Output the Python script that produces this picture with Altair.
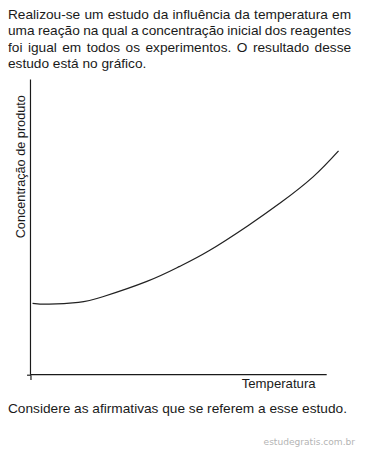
import altair as alt
import pandas as pd

# Curve (arbitrary units: temperature 0-100, concentration 0-100)
temperatura = [0.7, 6.3, 16.2, 24.4, 39.3, 50.2, 60.1, 73.3, 84.5, 95.4, 104.0]
concentracao = [24.2, 23.9, 24.5, 26.4, 31.6, 36.6, 41.9, 50.4, 58.3, 67.0, 75.8]
eixo_min, eixo_max = 0, 100

paragrafo = [
    "Realizou-se um estudo da influência da temperatura em",
    "uma reação na qual a concentração inicial dos reagentes",
    "foi igual em todos os experimentos. O resultado desse",
    "estudo está no gráfico.",
]
rodape = "Considere as afirmativas que se referem a esse estudo."
marca = "estudegratis.com.br"
titulo_x = "Temperatura"
titulo_y = "Concentração de produto"

FONT = "Liberation Sans"
INK = "#1a1a1a"
FS = 14

# Arial / Liberation Sans advance widths (1/1000 em) used to justify the paragraph
ADV = {" ": 278, "-": 333, ".": 278, "a": 556, "b": 556, "c": 500, "d": 556, "e": 556,
       "f": 278, "g": 556, "h": 556, "i": 222, "j": 222, "k": 500, "l": 222, "m": 833,
       "n": 556, "o": 556, "p": 556, "q": 556, "r": 333, "s": 500, "t": 278, "u": 556,
       "v": 500, "w": 722, "x": 500, "y": 500, "z": 500, "á": 556, "ã": 556, "ç": 500,
       "ê": 556, "R": 722, "O": 778, "C": 722}


def wwidth(word):
    return sum(ADV.get(ch, 556) for ch in word) / 1000 * FS


df = pd.DataFrame({"t": temperatura, "c": concentracao})
xs = alt.Scale(domain=[eixo_min, eixo_max], nice=False, zero=False)
ys = alt.Scale(domain=[eixo_min, eixo_max], nice=False, zero=False)

curve = alt.Chart(df).mark_line(
    color="#222222", strokeWidth=1.3, interpolate="natural"
).encode(
    x=alt.X("t:Q", scale=xs,
            axis=alt.Axis(title=titulo_x, values=[eixo_min], labels=False, grid=False,
                          domain=False, tickSize=5, tickColor=INK, tickWidth=1.2,
                          titleFont=FONT, titleFontSize=13.5, titleFontWeight="normal",
                          titleColor=INK, titleX=215.5, titleY=12.7,
                          titleAlign="left", titleBaseline="alphabetic")),
    y=alt.Y("c:Q", scale=ys,
            axis=alt.Axis(title=titulo_y, values=[eixo_min], labels=False, grid=False,
                          domain=False, tickSize=4, tickColor=INK, tickWidth=1.2,
                          titleFont=FONT, titleFontSize=13, titleFontWeight="normal",
                          titleColor=INK, titleX=-6.5, titleY=162, titleAngle=270,
                          titleAlign="left", titleBaseline="alphabetic")),
)

# axis lines drawn in data coordinates
x_axis = alt.Chart(pd.DataFrame({"a": [eixo_min], "b": [eixo_max], "c": [eixo_min]})).mark_rule(
    color=INK, strokeWidth=1.2).encode(x="a:Q", x2="b:Q", y="c:Q")
y_axis = alt.Chart(pd.DataFrame({"a": [eixo_min], "b": [eixo_max], "c": [eixo_min]})).mark_rule(
    color=INK, strokeWidth=1.2).encode(y="a:Q", y2="b:Q", x="c:Q")

layers = [x_axis, y_axis, curve]


def text_layer(s, x, y, **kw):
    props = dict(font=FONT, fontSize=FS, color=INK, align="left", baseline="alphabetic")
    props.update(kw)
    return alt.Chart(pd.DataFrame({"s": [s]})).mark_text(**props).encode(
        x=alt.value(x), y=alt.value(y), text="s:N")


LEFT, RIGHT = -23, 328
baselines = [-62, -45, -28.3, -11.5]
for i, (line, yb) in enumerate(zip(paragrafo, baselines)):
    words = line.split(" ")
    if i < len(paragrafo) - 1:
        widths = [wwidth(w) for w in words]
        gap = (RIGHT - LEFT - sum(widths)) / (len(words) - 1)
        x = LEFT
        for w, wd in zip(words, widths):
            layers.append(text_layer(w, x, yb))
            x += wd + gap
    else:
        layers.append(text_layer(line, LEFT, yb))

layers.append(text_layer(rodape, LEFT, 341))
layers.append(text_layer(marca, 332, 374, font="DejaVu Sans", fontSize=9.3,
                         color="#b4b4b4", align="right"))

chart = alt.layer(*layers).properties(
    width=303, height=302, autosize="none",
    padding={"left": 23, "top": 68, "right": 31, "bottom": 76},
    background="white",
).configure_view(stroke=None)

chart.save("out.html", embed_options={"renderer": "svg", "actions": False})
